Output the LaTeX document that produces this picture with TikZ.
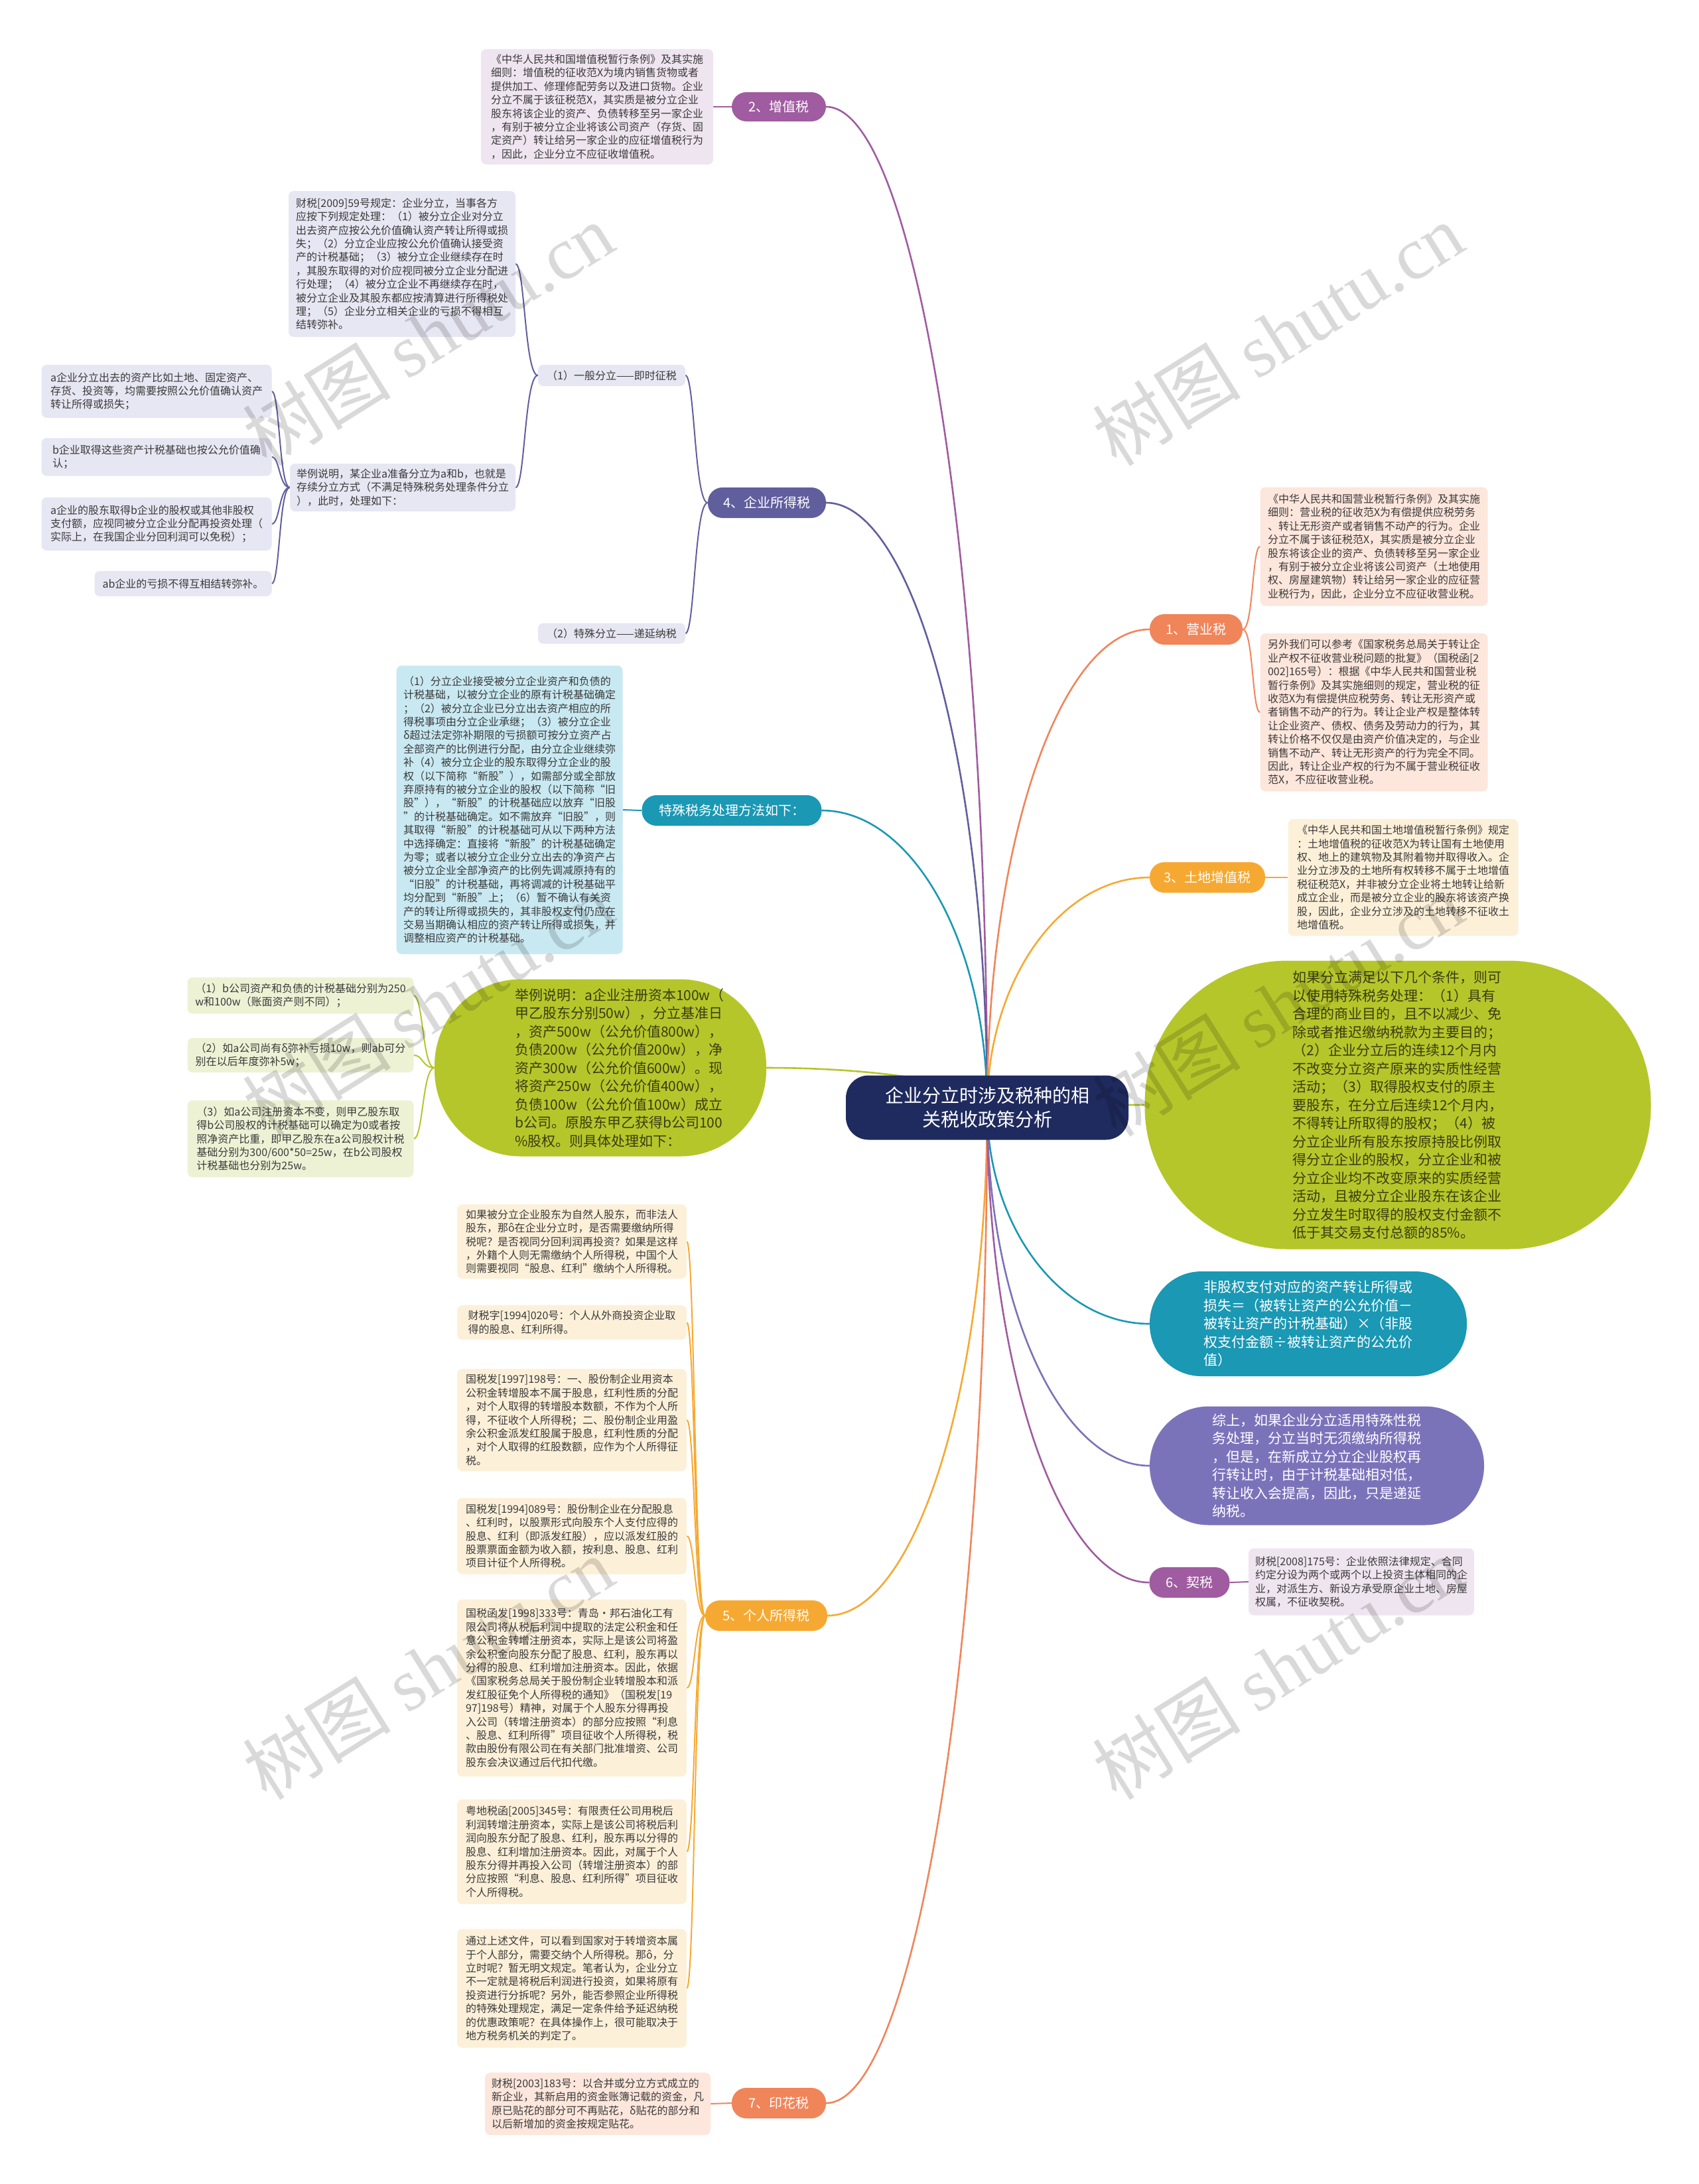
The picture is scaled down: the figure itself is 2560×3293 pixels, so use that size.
\documentclass[tikz,border=0pt]{standalone}
\usepackage{fontspec}
\setmainfont{Noto Sans CJK SC}
\newfontfamily\wmfont{Liberation Serif}
\usetikzlibrary{backgrounds,calc}
\definecolor{cPA}{HTML}{A05CA0}
\definecolor{lPA}{HTML}{EFE5F0}
\definecolor{cSL}{HTML}{615E9E}
\definecolor{lSL}{HTML}{E7E6F3}
\definecolor{cTE}{HTML}{1A98B4}
\definecolor{lTE}{HTML}{C9E9F2}
\definecolor{cGR}{HTML}{B5C62B}
\definecolor{lGR}{HTML}{EEF2D5}
\definecolor{tGR}{HTML}{3A3C12}
\definecolor{cOR}{HTML}{F6A932}
\definecolor{lOR}{HTML}{FDF0D9}
\definecolor{cCO}{HTML}{F0855A}
\definecolor{lCO}{HTML}{FDE6DC}
\definecolor{cPB}{HTML}{7B73BA}
\definecolor{cNV}{HTML}{1F2B5E}
\definecolor{txt}{HTML}{3A3A3A}
\newcommand\mainlink[2]{\draw[link,#1] (#2) .. controls ($(#2)!0.55!(#2 -| C.center)$) and ($(C.center)!0.55!(#2 -| C.center)$) .. (C.center);}
\begin{document}
\begin{tikzpicture}[x=1pt,y=-1pt,
  leaf/.style={rectangle, rounded corners=8pt, inner sep=3pt, align=left, text=txt, font=\fontsize{16pt}{20.4pt}\selectfont},
  sz/.style 2 args={minimum width=#1pt, minimum height=#2pt},
  pill/.style={rectangle, rounded corners=22pt, text=white, inner sep=0pt, font=\fontsize{20pt}{24pt}\selectfont},
  big/.style={rectangle, inner sep=0pt, align=left, font=\fontsize{21pt}{27.5pt}\selectfont},
  link/.style={line width=2.6pt},
  sub/.style={line width=2pt},
  wm/.style={inner sep=0pt, text=black, text opacity=0.15, rotate=32, font=\fontsize{112pt}{112pt}\selectfont}]
\useasboundingbox (0,0) rectangle (2560,3293);

% ---------- centre ----------
\node[rectangle, rounded corners=34pt, fill=cNV, text=white, align=center, sz={426}{97}, font=\fontsize{28pt}{36pt}\selectfont] (C) at (1488,1670) {企业分立时涉及税种的相\\关税收政策分析};

% ---------- 2 增值税 ----------
\node[leaf, fill=lPA, sz={350}{174}] (L2) at (900,161) {《中华人民共和国增值税暂行条例》及其实施\\细则：增值税的征收范X为境内销售货物或者\\提供加工、修理修配劳务以及进口货物。企业\\分立不属于该征税范X，其实质是被分立企业\\股东将该企业的资产、负债转移至另一家企业\\，有别于被分立企业将该公司资产（存货、固\\定资产）转让给另一家企业的应征增值税行为\\，因此，企业分立不应征收增值税。};
\node[pill, fill=cPA, sz={142}{44}] (B2) at (1174,161) {2、增值税};

% ---------- 4 企业所得税 ----------
\node[leaf, fill=lSL, sz={342}{220}] (L4a) at (606,398) {财税[2009]59号规定：企业分立，当事各方\\应按下列规定处理：（1）被分立企业对分立\\出去资产应按公允价值确认资产转让所得或损\\失；（2）分立企业应按公允价值确认接受资\\产的计税基础；（3）被分立企业继续存在时\\，其股东取得的对价应视同被分立企业分配进\\行处理；（4）被分立企业不再继续存在时，\\被分立企业及其股东都应按清算进行所得税处\\理；（5）企业分立相关企业的亏损不得相互\\结转弥补。};
\node[leaf, fill=lSL, sz={222}{32}] (L41) at (922,566) {（1）一般分立——即时征税};
\node[leaf, fill=lSL, sz={340}{72}] (L4b) at (607,735) {举例说明，某企业a准备分立为a和b，也就是\\存续分立方式（不满足特殊税务处理条件分立\\），此时，处理如下：};
\node[leaf, fill=lSL, sz={347}{80}] (L4b1) at (236,590) {a企业分立出去的资产比如土地、固定资产、\\存货、投资等，均需要按照公允价值确认资产\\转让所得或损失；};
\node[leaf, fill=lSL, sz={347}{57}] (L4b2) at (236,689) {b企业取得这些资产计税基础也按公允价值确\\认；};
\node[leaf, fill=lSL, sz={347}{80}] (L4b3) at (236,790) {a企业的股东取得b企业的股权或其他非股权\\支付额，应视同被分立企业分配再投资处理（\\实际上，在我国企业分回利润可以免税）；};
\node[leaf, fill=lSL, sz={267}{38}] (L4b4) at (276,880) {ab企业的亏损不得互相结转弥补。};
\node[leaf, fill=lSL, sz={222}{31}] (L42) at (922,955) {（2）特殊分立——递延纳税};
\node[pill, fill=cSL, sz={178}{46}] (B4) at (1156,758) {4、企业所得税};

% ---------- 特殊税务处理 ----------
\node[leaf, fill=lTE, sz={341}{435}] (SP) at (768,1221) {（1）分立企业接受被分立企业资产和负债的\\计税基础，以被分立企业的原有计税基础确定\\；（2）被分立企业已分立出去资产相应的所\\得税事项由分立企业承继；（3）被分立企业\\δ超过法定弥补期限的亏损额可按分立资产占\\全部资产的比例进行分配，由分立企业继续弥\\补（4）被分立企业的股东取得分立企业的股\\权（以下简称“新股”），如需部分或全部放\\弃原持有的被分立企业的股权（以下简称“旧\\股”），“新股”的计税基础应以放弃“旧股\\”的计税基础确定。如不需放弃“旧股”，则\\其取得“新股”的计税基础可从以下两种方法\\中选择确定：直接将“新股”的计税基础确定\\为零；或者以被分立企业分立出去的净资产占\\被分立企业全部净资产的比例先调减原持有的\\“旧股”的计税基础，再将调减的计税基础平\\均分配到“新股”上；（6）暂不确认有关资\\产的转让所得或损失的，其非股权支付仍应在\\交易当期确认相应的资产转让所得或损失，并\\调整相应资产的计税基础。};
\node[pill, fill=cTE, sz={271}{46}] (BSP) at (1103,1222) {特殊税务处理方法如下：};

% ---------- green example ----------
\node[rectangle, rounded corners=130pt, fill=cGR, sz={500}{267}] (G1) at (905,1610) {};
\node[big, text=tGR] (G1t) at (934,1610) {举例说明：a企业注册资本100w（\\甲乙股东分别50w），分立基准日\\，资产500w（公允价值800w），\\负债200w（公允价值200w），净\\资产300w（公允价值600w）。现\\将资产250w（公允价值400w），\\负债100w（公允价值100w）成立\\b公司。原股东甲乙获得b公司100\\\%股权。则具体处理如下：};
\node[leaf, fill=lGR, sz={341}{55}] (GL1) at (453,1501) {（1）b公司资产和负债的计税基础分别为250\\w和100w（账面资产则不同）；};
\node[leaf, fill=lGR, sz={341}{52}] (GL2) at (453,1591) {（2）如a公司尚有δ弥补亏损10w，则ab可分\\别在以后年度弥补5w；};
\node[leaf, fill=lGR, sz={341}{116}] (GL3) at (453,1717) {（3）如a公司注册资本不变，则甲乙股东取\\得b公司股权的计税基础可以确定为0或者按\\照净资产比重，即甲乙股东在a公司股权计税\\基础分别为300/600*50=25w，在b公司股权\\计税基础也分别为25w。};

% ---------- 5 个人所得税 ----------
\node[leaf, fill=lOR, sz={346}{112}] (P1) at (862,1872) {如果被分立企业股东为自然人股东，而非法人\\股东，那ô在企业分立时，是否需要缴纳所得\\税呢？是否视同分回利润再投资？如果是这样\\，外籍个人则无需缴纳个人所得税，中国个人\\则需要视同“股息、红利”缴纳个人所得税。};
\node[leaf, fill=lOR, sz={346}{52}] (P2) at (862,1994) {财税字[1994]020号：个人从外商投资企业取\\得的股息、红利所得。};
\node[leaf, fill=lOR, sz={346}{154}] (P3) at (862,2141) {国税发[1997]198号：一、股份制企业用资本\\公积金转增股本不属于股息，红利性质的分配\\，对个人取得的转增股本数额，不作为个人所\\得，不征收个人所得税；二、股份制企业用盈\\余公积金派发红股属于股息，红利性质的分配\\，对个人取得的红股数额，应作为个人所得征\\税。};
\node[leaf, fill=lOR, sz={346}{115}] (P4) at (862,2316) {国税发[1994]089号：股份制企业在分配股息\\、红利时，以股票形式向股东个人支付应得的\\股息、红利（即派发红股），应以派发红股的\\股票票面金额为收入额，按利息、股息、红利\\项目计征个人所得税。};
\node[leaf, fill=lOR, sz={346}{267}] (P5) at (862,2545) {国税函发[1998]333号：青岛·邦石油化工有\\限公司将从税后利润中提取的法定公积金和任\\意公积金转增注册资本，实际上是该公司将盈\\余公积金向股东分配了股息、红利，股东再以\\分得的股息、红利增加注册资本。因此，依据\\《国家税务总局关于股份制企业转增股本和派\\发红股征免个人所得税的通知》（国税发[19\\97]198号）精神，对属于个人股东分得再投\\入公司（转增注册资本）的部分应按照“利息\\、股息、红利所得”项目征收个人所得税，税\\款由股份有限公司在有关部门批准增资、公司\\股东会决议通过后代扣代缴。};
\node[leaf, fill=lOR, sz={346}{158}] (P6) at (862,2792) {粤地税函[2005]345号：有限责任公司用税后\\利润转增注册资本，实际上是该公司将税后利\\润向股东分配了股息、红利，股东再以分得的\\股息、红利增加注册资本。因此，对属于个人\\股东分得并再投入公司（转增注册资本）的部\\分应按照“利息、股息、红利所得”项目征收\\个人所得税。};
\node[leaf, fill=lOR, sz={346}{179}] (P7) at (862,2998) {通过上述文件，可以看到国家对于转增资本属\\于个人部分，需要交纳个人所得税。那ô，分\\立时呢？暂无明文规定。笔者认为，企业分立\\不一定就是将税后利润进行投资，如果将原有\\投资进行分拆呢？另外，能否参照企业所得税\\的特殊处理规定，满足一定条件给予延迟纳税\\的优惠政策呢？在具体操作上，很可能取决于\\地方税务机关的判定了。};
\node[pill, fill=cOR, sz={184}{46}] (B5) at (1155,2436) {5、个人所得税};

% ---------- 7 印花税 ----------
\node[leaf, fill=lCO, sz={340}{94}] (L7) at (901,3172) {财税[2003]183号：以合并或分立方式成立的\\新企业，其新启用的资金账簿记载的资金，凡\\原已贴花的部分可不再贴花，δ贴花的部分和\\以后新增加的资金按规定贴花。};
\node[pill, fill=cCO, sz={142}{46}] (B7) at (1174,3171) {7、印花税};

% ---------- right side ----------
\node[pill, fill=cCO, sz={140}{46}] (B1) at (1803,949) {1、营业税};
\node[leaf, fill=lCO, sz={343}{179}] (L1a) at (2071,824) {《中华人民共和国营业税暂行条例》及其实施\\细则：营业税的征收范X为有偿提供应税劳务\\、转让无形资产或者销售不动产的行为。企业\\分立不属于该征税范X，其实质是被分立企业\\股东将该企业的资产、负债转移至另一家企业\\，有别于被分立企业将该公司资产（土地使用\\权、房屋建筑物）转让给另一家企业的应征营\\业税行为，因此，企业分立不应征收营业税。};
\node[leaf, fill=lCO, sz={343}{238}] (L1b) at (2071,1074) {另外我们可以参考《国家税务总局关于转让企\\业产权不征收营业税问题的批复》（国税函[2\\002]165号）：根据《中华人民共和国营业税\\暂行条例》及其实施细则的规定，营业税的征\\收范X为有偿提供应税劳务、转让无形资产或\\者销售不动产的行为。转让企业产权是整体转\\让企业资产、债权、债务及劳动力的行为，其\\转让价格不仅仅是由资产价值决定的，与企业\\销售不动产、转让无形资产的行为完全不同。\\因此，转让企业产权的行为不属于营业税征收\\范X，不应征收营业税。};

\node[pill, fill=cOR, sz={174}{46}] (B3) at (1820,1323) {3、土地增值税};
\node[leaf, fill=lOR, sz={347}{176}] (L3) at (2115,1323) {《中华人民共和国土地增值税暂行条例》规定\\：土地增值税的征收范X为转让国有土地使用\\权、地上的建筑物及其附着物并取得收入。企\\业分立涉及的土地所有权转移不属于土地增值\\税征税范X，并非被分立企业将土地转让给新\\成立企业，而是被分立企业的股东将该资产换\\股，因此，企业分立涉及的土地转移不征收土\\地增值税。};

\node[big, rounded corners=215pt, fill=cGR, text=tGR, sz={763}{435}] (G2) at (2107,1666) {如果分立满足以下几个条件，则可\\以使用特殊税务处理：（1）具有\\合理的商业目的，且不以减少、免\\除或者推迟缴纳税款为主要目的；\\（2）企业分立后的连续12个月内\\不改变分立资产原来的实质性经营\\活动；（3）取得股权支付的原主\\要股东，在分立后连续12个月内，\\不得转让所取得的股权；（4）被\\分立企业所有股东按原持股比例取\\得分立企业的股权，分立企业和被\\分立企业均不改变原来的实质经营\\活动，且被分立企业股东在该企业\\分立发生时取得的股权支付金额不\\低于其交易支付总额的85\%。};

\node[big, rounded corners=78pt, fill=cTE, text=white, sz={478}{158}] (T) at (1972,1996) {非股权支付对应的资产转让所得或\\损失＝（被转让资产的公允价值－\\被转让资产的计税基础）×（非股\\权支付金额÷被转让资产的公允价\\值）};

\node[big, rounded corners=89pt, fill=cPB, text=white, sz={504}{179}] (PU) at (1985,2210) {综上，如果企业分立适用特殊性税\\务处理，分立当时无须缴纳所得税\\，但是，在新成立分立企业股权再\\行转让时，由于计税基础相对低，\\转让收入会提高，因此，只是递延\\纳税。};

\node[pill, fill=cPA, sz={121}{46}] (B6) at (1793,2386) {6、契税};
\node[leaf, fill=lPA, sz={340}{101}] (L6) at (2052,2385) {财税[2008]175号：企业依照法律规定、合同\\约定分设为两个或两个以上投资主体相同的企\\业，对派生方、新设方承受原企业土地、房屋\\权属，不征收契税。};

% ---------- connectors ----------
\begin{scope}[on background layer]
\fill[white] (0,0) rectangle (2560,3293);
\mainlink{cPA}{B2.east}
\mainlink{cSL}{B4.east}
\mainlink{cTE}{BSP.east}
\mainlink{cGR}{G1.east}
\mainlink{cOR}{B5.east}
\mainlink{cCO}{B7.east}
\mainlink{cCO}{B1.west}
\mainlink{cOR}{B3.west}
\mainlink{cGR}{G2.west}
\mainlink{cTE}{T.west}
\mainlink{cPB}{PU.west}
\mainlink{cPA}{B6.west}

\draw[sub,cPA] (L2.east) -- (B2.west);
\draw[sub,cSL] (B4.west) .. controls +(-20,0) and +(14,0) .. (L41.east);
\draw[sub,cSL] (B4.west) .. controls +(-20,0) and +(14,0) .. (L42.east);
\draw[sub,cSL] (L41.west) .. controls +(-20,0) and +(14,0) .. (L4a.east);
\draw[sub,cSL] (L41.west) .. controls +(-20,0) and +(14,0) .. (L4b.east);
\draw[sub,cSL] (L4b.west) .. controls +(-16,0) and +(12,0) .. (L4b1.east);
\draw[sub,cSL] (L4b.west) .. controls +(-16,0) and +(12,0) .. (L4b2.east);
\draw[sub,cSL] (L4b.west) .. controls +(-16,0) and +(12,0) .. (L4b3.east);
\draw[sub,cSL] (L4b.west) .. controls +(-16,0) and +(12,0) .. (L4b4.east);
\draw[sub,cTE] (SP.east) -- (BSP.west);
\draw[sub,cGR] (G1.west) .. controls +(-18,0) and +(14,0) .. (GL1.east);
\draw[sub,cGR] (G1.west) .. controls +(-18,0) and +(14,0) .. (GL2.east);
\draw[sub,cGR] (G1.west) .. controls +(-18,0) and +(14,0) .. (GL3.east);
\draw[sub,cOR] (B5.west) .. controls +(-16,0) and +(12,0) .. (P1.east);
\draw[sub,cOR] (B5.west) .. controls +(-16,0) and +(12,0) .. (P2.east);
\draw[sub,cOR] (B5.west) .. controls +(-16,0) and +(12,0) .. (P3.east);
\draw[sub,cOR] (B5.west) .. controls +(-16,0) and +(12,0) .. (P4.east);
\draw[sub,cOR] (B5.west) .. controls +(-16,0) and +(12,0) .. (P5.east);
\draw[sub,cOR] (B5.west) .. controls +(-16,0) and +(12,0) .. (P6.east);
\draw[sub,cOR] (B5.west) .. controls +(-16,0) and +(12,0) .. (P7.east);
\draw[sub,cCO] (L7.east) -- (B7.west);
\draw[sub,cCO] (B1.east) .. controls +(16,0) and +(-12,0) .. (L1a.west);
\draw[sub,cCO] (B1.east) .. controls +(16,0) and +(-12,0) .. (L1b.west);
\draw[sub,cOR] (B3.east) -- (L3.west);
\draw[sub,cPA] (B6.east) -- (L6.west);
\end{scope}

% ---------- watermarks ----------
\node[wm] (w1) at (645,504) {树图 {\wmfont shutu.cn}};
\node[wm] (w2) at (1926,504) {树图 {\wmfont shutu.cn}};
\node[wm] (w3) at (645,1515) {树图 {\wmfont shutu.cn}};
\node[wm] (w4) at (1926,1515) {树图 {\wmfont shutu.cn}};
\node[wm] (w5) at (645,2515) {树图 {\wmfont shutu.cn}};
\node[wm] (w6) at (1926,2515) {树图 {\wmfont shutu.cn}};
\end{tikzpicture}
\end{document}
